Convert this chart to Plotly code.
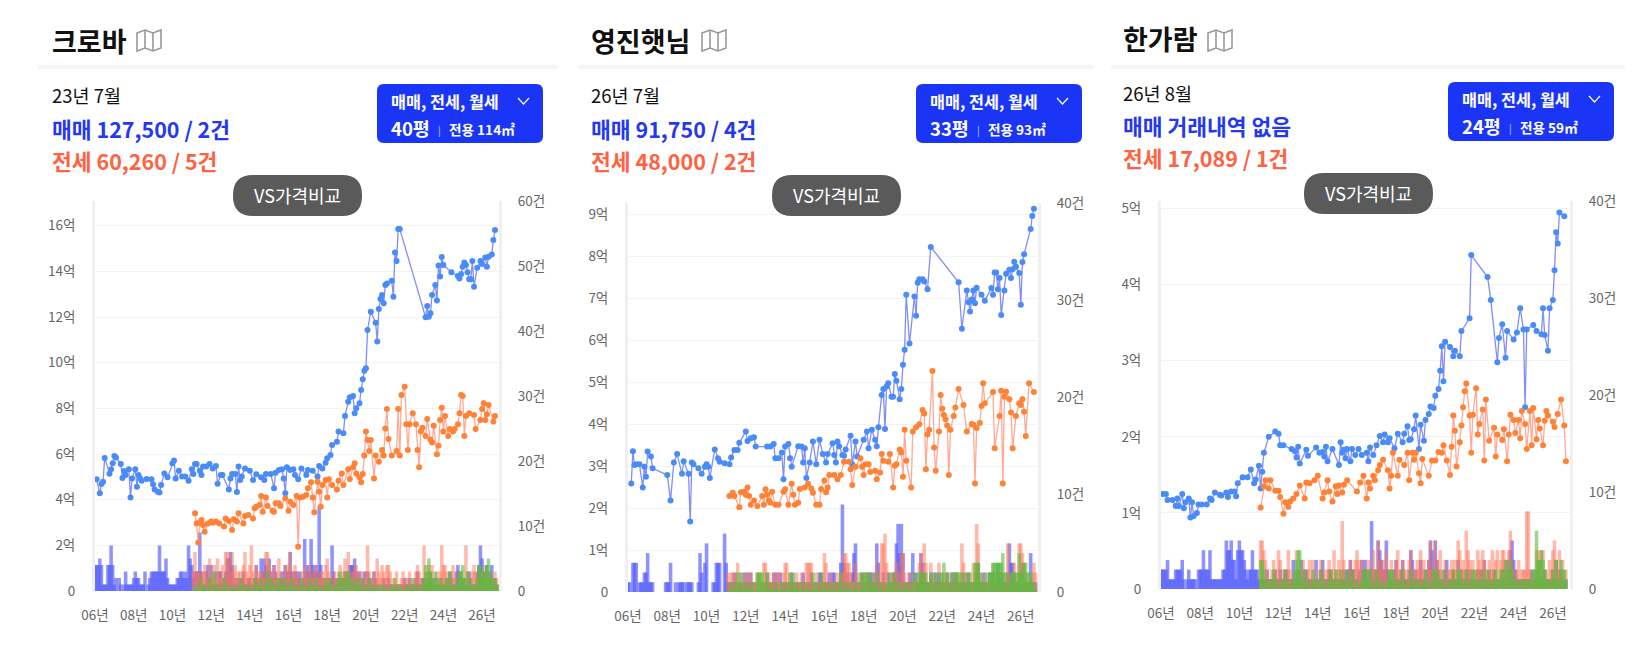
"""Three apartment price/volume panels side by side, rebuilt with Plotly."""

import plotly.graph_objects as go

WIDTH, HEIGHT = 1650, 667
FONT = "Noto Sans CJK KR"

# x axis is counted in months since Jan 2006
year_ticks = [0, 24, 48, 72, 96, 120, 144, 168, 192, 216, 240]
year_labels = ["06년", "08년", "10년", "12년", "14년", "16년", "18년", "20년", "22년", "24년", "26년"]

# ---------------------------------------------------------------------------
# 크로바
# ---------------------------------------------------------------------------
p1_sale_m = [1, 3, 4, 5, 6, 9, 10, 11, 12, 13, 16, 17, 18, 19, 21, 22, 23, 25, 26, 27, 28, 29, 32, 35, 36,
             37, 39, 40, 41, 43, 45, 48, 49, 50, 52, 54, 56, 58, 60, 61, 62, 63, 65, 66, 67, 69, 71, 73, 75,
             76, 78, 79, 83, 84, 85, 87, 88, 89, 90, 91, 93, 96, 98, 100, 103, 105, 106, 109, 111, 112, 114,
             116, 117, 118, 119, 121, 123, 124, 126, 128, 131, 132, 135, 138, 139, 141, 143, 144, 146, 147,
             150, 151, 154, 155, 157, 158, 160, 161, 162, 164, 165, 166, 167, 168, 169, 171, 174, 175, 176,
             177, 178, 179, 180, 181, 184, 185, 186, 187, 188, 189, 205, 206, 207, 208, 209, 211, 212, 213,
             214, 215, 216, 221, 225, 226, 227, 228, 229, 230, 231, 232, 233, 234, 235, 237, 239, 240, 242,
             243, 244, 246, 247, 248]
p1_sale = [4.89, 4.28, 4.69, 4.79, 5.82, 5.14, 5.33, 5.59, 5.91, 5.85, 5.56, 4.95, 5.26, 5.08, 5.33, 4.10,
           4.93, 5.33, 4.57, 5.08, 4.93, 4.83, 4.91, 4.89, 4.67, 4.45, 4.35, 4.31, 4.64, 5.15, 4.98, 5.59,
           5.71, 4.93, 5.27, 5.01, 5.01, 4.83, 5.33, 5.12, 5.56, 5.56, 5.27, 5.08, 5.45, 5.45, 5.56, 5.37,
           5.47, 4.70, 5.08, 5.08, 4.45, 4.93, 5.12, 5.12, 4.34, 5.45, 4.86, 5.01, 5.37, 5.27, 4.86, 5.11,
           4.98, 4.86, 5.12, 5.12, 4.50, 5.18, 5.30, 5.33, 4.93, 4.28, 5.42, 5.30, 5.33, 5.08, 4.89, 5.37,
           5.08, 5.30, 5.27, 5.01, 5.47, 5.37, 5.62, 5.81, 5.96, 6.39, 6.54, 6.98, 6.91, 7.66, 8.29, 8.48,
           8.54, 7.78, 8.00, 8.22, 8.80, 9.27, 9.65, 9.75, 11.43, 12.23, 11.75, 10.93, 12.35, 12.79, 12.96,
           12.60, 13.40, 13.47, 13.59, 12.89, 14.83, 14.45, 15.85, 15.85, 11.99, 12.48, 12.01, 12.16, 12.96,
           13.40, 12.72, 14.25, 13.77, 14.63, 14.28, 13.96, 13.80, 13.69, 13.88, 14.20, 14.39, 14.28, 13.96,
           13.65, 13.65, 14.45, 13.33, 14.16, 14.45, 14.32, 14.61, 14.20, 14.64, 14.74, 15.37, 15.81]
p1_rent_m = [62, 63, 64, 65, 66, 67, 68, 70, 72, 73, 75, 77, 80, 81, 83, 85, 86, 88, 89, 92, 93, 95, 98, 99,
             100, 102, 103, 104, 106, 107, 110, 111, 112, 114, 115, 118, 120, 121, 123, 125, 126, 127, 129,
             131, 132, 134, 135, 136, 138, 139, 140, 141, 143, 144, 145, 147, 150, 151, 153, 154, 157, 158,
             160, 161, 162, 164, 165, 166, 167, 168, 169, 170, 171, 173, 174, 176, 178, 179, 180, 181, 182,
             184, 187, 188, 189, 190, 192, 193, 194, 195, 197, 199, 200, 201, 202, 203, 205, 206, 208, 209,
             210, 212, 213, 214, 215, 216, 217, 219, 220, 222, 223, 225, 226, 227, 228, 229, 230, 232, 235,
             236, 239, 240, 241, 242, 243, 244, 247, 248]
p1_rent = [3.40, 2.96, 2.12, 2.99, 3.11, 2.89, 2.60, 2.96, 3.04, 2.99, 3.04, 2.96, 2.82, 3.18, 3.07, 2.67,
           3.14, 3.04, 3.40, 2.96, 3.28, 3.33, 3.18, 3.62, 3.69, 3.77, 4.16, 3.47, 4.10, 3.72, 3.52, 3.47,
           3.84, 3.84, 3.72, 4.06, 3.52, 3.91, 3.77, 4.16, 1.94, 4.10, 4.13, 4.20, 4.50, 4.76, 4.10, 3.45,
           4.79, 4.35, 3.69, 4.64, 4.86, 4.09, 4.89, 4.64, 4.45, 4.83, 5.15, 4.64, 5.33, 4.91, 5.42, 5.59,
           5.15, 4.98, 4.76, 5.12, 5.93, 6.98, 6.61, 6.13, 6.61, 4.93, 5.93, 5.66, 6.18, 5.93, 7.12, 7.97,
           6.66, 5.93, 6.13, 7.97, 5.93, 8.58, 8.95, 7.30, 6.18, 7.30, 7.78, 7.30, 6.18, 5.42, 6.98, 7.15,
           6.79, 7.53, 6.64, 6.50, 7.24, 5.99, 6.36, 7.49, 8.03, 6.98, 7.66, 6.79, 7.09, 6.98, 7.09, 7.30,
           7.78, 8.58, 8.54, 6.79, 7.66, 7.78, 7.71, 7.09, 7.49, 7.97, 8.22, 7.49, 7.74, 8.15, 7.42, 7.66]
p1_sale_vol = [4, 4, 4, 5, 4, 1, 1, 1, 4, 4, 7, 4,
               1, 2, 0, 2, 1, 0, 1, 3, 1, 1, 1, 1,
               2, 3, 2, 2, 1, 1, 1, 3, 0, 1, 2, 3,
               3, 3, 3, 3, 7, 3, 3, 3, 5, 2, 1, 1,
               1, 1, 1, 2, 2, 3, 3, 2, 3, 2, 7, 5,
               4, 2, 3, 3, 3, 9, 3, 1, 1, 3, 4, 2,
               4, 1, 1, 3, 1, 3, 3, 1, 2, 3, 5, 5,
               6, 4, 1, 2, 1, 2, 1, 2, 3, 1, 1, 2,
               2, 1, 1, 2, 4, 2, 1, 5, 3, 5, 4, 3,
               5, 3, 2, 4, 3, 1, 2, 2, 3, 2, 4, 3,
               3, 6, 3, 2, 3, 3, 2, 3, 1, 2, 8, 3,
               4, 3, 8, 4, 3, 4, 3, 13, 4, 2, 1, 2,
               1, 2, 2, 7, 3, 2, 1, 2, 1, 2, 2, 3,
               1, 3, 4, 4, 4, 5, 3, 2, 3, 1, 2, 3,
               1, 3, 2, 2, 1, 3, 2, 1, 1, 0, 1, 2,
               1, 1, 2, 1, 1, 0, 1, 1, 1, 0, 1, 1,
               2, 1, 1, 2, 1, 1, 1, 2, 3, 1, 1, 2,
               2, 1, 1, 2, 3, 1, 2, 1, 1, 1, 1, 2,
               1, 1, 2, 1, 3, 2, 1, 1, 3, 4, 3, 2,
               1, 2, 1, 1, 3, 2, 1, 1, 1, 3, 4, 7,
               5, 3, 3, 4, 2, 3, 4, 1, 2, 1]
p1_rent_vol = [3, 6, 3, 3, 3, 2, 3, 4, 3, 2, 5, 2,
               3, 4, 2, 5, 3, 2, 4, 2, 6, 6, 5, 3,
               6, 3, 4, 2, 3, 3, 2, 4, 6, 3, 2, 4,
               7, 3, 2, 4, 3, 2, 3, 3, 2, 6, 6, 4,
               3, 2, 4, 3, 2, 5, 3, 2, 2, 4, 3, 4,
               6, 2, 3, 4, 3, 2, 1, 3, 2, 4, 3, 2,
               4, 3, 2, 3, 4, 2, 3, 2, 3, 2, 4, 5,
               3, 2, 1, 3, 2, 2, 3, 4, 2, 3, 5, 3,
               6, 3, 2, 3, 4, 4, 3, 2, 3, 1, 2, 3,
               7, 3, 2, 1, 3, 2, 5, 3, 2, 4, 3, 2,
               4, 4, 3, 1, 2, 1, 3, 1, 1, 2, 3, 2,
               1, 2, 3, 1, 1, 2, 3, 4, 3, 2, 1, 7,
               3, 2, 4, 3, 4, 1, 2, 3, 2, 3, 7, 4,
               4, 3, 1, 2, 3, 4, 2, 1, 3, 2, 3, 1,
               2, 7, 3, 2, 1, 3, 4, 3, 2, 3, 1, 3,
               3, 4, 3, 2, 3, 1, 2, 3, 2, 1]
p1_month_vol = [0, 0, 1, 0, 0, 2, 0, 1, 0, 0, 2, 0,
                0, 3, 0, 1, 0, 0, 0, 2, 0, 1, 0, 0,
                0, 1, 0, 0, 0, 2, 0, 1, 0, 0, 1, 0,
                0, 0, 2, 0, 1, 0, 2, 0, 0, 1, 3, 0,
                2, 0, 1, 0, 2, 0, 2, 0, 1, 2, 0, 0,
                1, 2, 0, 0, 1, 0, 0, 2, 0, 1, 0, 0,
                2, 0, 1, 0, 2, 0, 0, 1, 0, 0, 2, 0,
                1, 2, 0, 0, 1, 0, 2, 3, 0, 2, 1, 3,
                3, 0, 2, 1, 0, 2, 0, 1, 2, 0, 0, 1,
                0, 2, 0, 0, 1, 0, 0, 1, 0, 0, 1, 0,
                0, 0, 0, 1, 0, 2, 0, 0, 1, 0, 0, 0,
                0, 1, 0, 0, 2, 0, 1, 0, 0, 1, 0, 2,
                4, 3, 5, 3, 2, 1, 3, 2, 1, 2, 0, 1,
                1, 2, 0, 3, 1, 0, 1, 0, 2, 3, 3, 4,
                2, 1, 3, 2, 1, 0, 1, 0, 2, 4, 4, 3,
                2, 3, 4, 5, 3, 2, 1, 2, 1, 1]

# ---------------------------------------------------------------------------
# 영진햇님
# ---------------------------------------------------------------------------
p2_sale_m = [2, 3, 4, 5, 7, 9, 10, 11, 12, 14, 15, 24, 26, 28, 30, 33, 34, 37, 38, 39, 40, 43, 45, 47, 48,
             49, 50, 53, 55, 56, 59, 62, 63, 65, 67, 68, 72, 73, 75, 77, 78, 85, 87, 89, 90, 92, 94, 95, 96,
             98, 99, 100, 104, 106, 107, 108, 109, 111, 113, 115, 117, 119, 121, 122, 125, 126, 127, 128,
             129, 131, 132, 133, 136, 137, 139, 140, 144, 146, 147, 149, 151, 152, 153, 155, 156, 157, 158,
             159, 161, 162, 163, 164, 166, 167, 168, 169, 170, 172, 175, 176, 177, 178, 180, 181, 183, 185,
             202, 204, 207, 208, 209, 210, 211, 212, 213, 216, 218, 222, 223, 224, 225, 226, 227, 228, 230,
             231, 233, 234, 235, 236, 237, 239, 240, 241, 242, 246, 247, 248]
p2_sale = [2.59, 3.36, 3.03, 3.05, 3.05, 2.49, 2.99, 2.75, 3.35, 3.23, 2.95, 2.79, 2.18, 3.09, 3.29, 2.82,
           3.12, 2.82, 1.68, 3.09, 3.05, 2.95, 2.82, 2.99, 3.05, 2.99, 2.72, 3.40, 3.19, 3.11, 3.07, 3.05,
           3.21, 3.39, 3.39, 3.56, 3.83, 3.60, 3.67, 3.69, 3.47, 3.47, 3.47, 3.53, 3.19, 3.19, 3.33, 2.69,
           3.47, 3.53, 3.19, 2.99, 3.48, 3.47, 3.09, 3.43, 2.72, 3.09, 3.59, 3.05, 3.63, 3.29, 3.09, 3.29,
           3.55, 3.27, 3.09, 3.59, 3.48, 3.27, 3.25, 3.40, 3.73, 3.05, 3.59, 3.23, 3.63, 3.83, 3.43, 3.87,
           3.63, 3.48, 3.93, 4.70, 4.84, 3.89, 4.90, 4.98, 4.66, 4.66, 5.20, 5.04, 4.60, 4.84, 5.42, 5.78,
           7.09, 5.93, 7.05, 6.59, 7.38, 7.46, 7.46, 7.41, 7.22, 8.23, 7.39, 6.28, 7.19, 6.91, 6.69, 6.98,
           7.19, 6.89, 7.26, 7.09, 6.95, 7.25, 7.09, 7.62, 7.62, 7.22, 7.49, 6.61, 7.19, 7.59, 7.69, 7.49,
           7.70, 7.88, 7.76, 7.61, 6.85, 7.87, 8.06, 8.66, 8.97, 9.14]
p2_rent_m = [62, 64, 65, 68, 69, 71, 72, 73, 74, 75, 77, 79, 82, 83, 84, 85, 86, 87, 88, 90, 92, 95, 96, 98,
             100, 101, 102, 104, 105, 108, 110, 112, 113, 115, 117, 118, 120, 121, 122, 123, 126, 128, 130,
             132, 135, 136, 137, 139, 142, 143, 144, 145, 147, 148, 151, 152, 154, 155, 156, 159, 160, 162,
             163, 164, 166, 167, 168, 169, 170, 173, 174, 176, 178, 180, 181, 182, 183, 184, 186, 187, 188,
             190, 191, 192, 193, 194, 195, 196, 197, 199, 200, 202, 205, 207, 210, 211, 212, 213, 215, 216,
             217, 218, 223, 224, 227, 228, 229, 230, 231, 233, 234, 235, 237, 239, 240, 241, 242, 243, 245,
             248]
p2_rent = [2.29, 2.37, 2.29, 2.02, 2.38, 2.39, 2.32, 2.49, 2.29, 2.08, 2.18, 2.05, 2.29, 2.08, 2.45, 2.32,
           2.18, 2.13, 2.39, 2.08, 2.08, 2.39, 2.45, 2.08, 2.58, 2.32, 2.08, 2.13, 2.46, 2.49, 2.58, 2.47,
           2.37, 2.08, 2.08, 2.46, 2.66, 2.38, 2.49, 2.79, 2.79, 2.69, 2.79, 3.11, 3.11, 2.93, 2.55, 2.99,
           3.19, 2.99, 2.79, 3.05, 3.05, 2.86, 2.89, 2.69, 2.85, 3.29, 3.13, 3.11, 3.29, 2.49, 3.01, 3.05,
           3.40, 3.33, 2.75, 3.87, 3.13, 2.49, 3.83, 3.93, 4.00, 4.34, 4.26, 2.93, 3.76, 3.87, 5.27, 3.45,
           2.89, 3.83, 4.70, 4.37, 4.22, 4.12, 3.97, 2.79, 3.87, 4.20, 4.40, 4.84, 4.46, 3.83, 4.01, 3.99,
           2.59, 3.91, 4.03, 4.44, 4.98, 4.50, 4.77, 3.43, 4.20, 4.80, 2.59, 4.66, 4.78, 4.60, 4.28, 3.43,
           4.20, 4.50, 4.46, 4.60, 4.30, 3.72, 4.98, 4.77]
p2_sale_vol = [1, 1, 0, 3, 3, 3, 0, 1, 1, 1, 2, 2,
               4, 1, 1, 1, 0, 0, 0, 0, 0, 0, 0, 1,
               1, 1, 3, 0, 0, 1, 0, 1, 1, 1, 1, 0,
               1, 1, 1, 1, 0, 0, 0, 1, 4, 2, 0, 3,
               5, 0, 0, 0, 1, 1, 3, 3, 3, 0, 0, 6,
               3, 1, 1, 1, 1, 2, 1, 0, 1, 1, 0, 2,
               1, 2, 1, 2, 1, 0, 1, 0, 0, 0, 1, 0,
               1, 2, 1, 1, 0, 2, 1, 2, 0, 2, 1, 1,
               1, 1, 0, 1, 2, 1, 0, 1, 1, 0, 1, 2,
               1, 0, 1, 1, 2, 0, 1, 0, 1, 2, 2, 0,
               1, 1, 1, 2, 1, 2, 2, 1, 1, 1, 3, 9,
               3, 1, 2, 1, 0, 2, 4, 5, 1, 0, 1, 2,
               1, 0, 1, 2, 2, 1, 2, 1, 5, 3, 1, 1,
               2, 1, 0, 2, 1, 1, 2, 2, 5, 7, 4, 7,
               4, 1, 1, 1, 2, 1, 4, 0, 2, 1, 1, 4,
               3, 2, 1, 1, 1, 2, 0, 1, 2, 1, 2, 1,
               1, 1, 0, 2, 1, 1, 2, 1, 2, 1, 1, 1,
               1, 2, 1, 1, 2, 1, 0, 1, 1, 2, 3, 1,
               1, 2, 1, 1, 0, 2, 1, 2, 1, 1, 3, 2,
               1, 2, 1, 1, 2, 5, 3, 3, 2, 1, 1, 1,
               2, 3, 1, 1, 1, 1, 4, 1, 1, 1]
p2_rent_vol = [2, 1, 2, 2, 1, 2, 3, 1, 2, 1, 1, 2,
               2, 1, 2, 1, 1, 1, 2, 2, 1, 1, 3, 3,
               1, 2, 1, 1, 2, 1, 2, 2, 1, 1, 2, 3,
               3, 1, 2, 1, 1, 1, 2, 1, 1, 2, 1, 1,
               3, 3, 3, 3, 1, 1, 2, 1, 1, 1, 2, 4,
               3, 1, 1, 2, 1, 1, 1, 2, 1, 2, 2, 4,
               4, 3, 3, 2, 1, 1, 3, 2, 1, 1, 2, 1,
               2, 1, 2, 1, 1, 2, 1, 3, 2, 1, 5, 5,
               6, 3, 1, 1, 2, 2, 2, 3, 2, 1, 4, 4,
               2, 1, 1, 2, 1, 1, 2, 1, 1, 3, 4, 2,
               5, 3, 1, 1, 3, 1, 2, 1, 1, 3, 1, 2,
               1, 2, 1, 2, 1, 1, 2, 1, 2, 1, 2, 5,
               3, 1, 2, 2, 1, 1, 3, 2, 7, 5, 2, 1,
               1, 2, 1, 1, 1, 2, 3, 1, 2, 1, 2, 2,
               1, 1, 2, 5, 2, 1, 1, 3, 1, 2, 5, 5,
               4, 3, 1, 2, 1, 1, 2, 3, 2]
p2_month_vol = [0, 0, 1, 0, 0, 1, 2, 0, 2, 0, 1, 0,
                1, 0, 0, 1, 0, 0, 2, 2, 2, 2, 0, 1,
                2, 0, 0, 1, 0, 0, 1, 0, 0, 1, 0, 0,
                1, 0, 2, 0, 2, 0, 1, 0, 0, 1, 0, 0,
                1, 0, 0, 0, 2, 0, 1, 0, 0, 2, 0, 1,
                0, 0, 1, 0, 0, 1, 0, 0, 1, 2, 0, 0,
                1, 0, 0, 1, 0, 0, 1, 0, 0, 2, 0, 2,
                2, 2, 0, 2, 1, 0, 1, 2, 0, 0, 1, 0,
                0, 1, 0, 2, 1, 0, 2, 0, 1, 0, 0, 1,
                0, 1, 0, 0, 1, 0, 2, 0, 1, 2, 2, 2,
                1, 2, 0, 1, 2, 0, 2, 0, 1, 2, 0, 2,
                3, 0, 2, 1, 0, 2, 0, 2, 2, 2, 0, 2,
                1, 0, 2, 1, 2, 0, 1, 3, 3, 3, 2, 1,
                0, 1, 2, 0, 2, 2, 3, 3, 3, 3, 3, 3,
                4, 1, 2, 0, 1, 2, 2, 2, 1, 2, 4, 2,
                2, 3, 3, 2, 1, 2, 1, 1, 0]

# ---------------------------------------------------------------------------
# 한가람
# ---------------------------------------------------------------------------
p3_sale_m = [1, 3, 4, 7, 9, 10, 11, 13, 14, 15, 17, 18, 19, 20, 22, 23, 25, 28, 30, 31, 33, 36, 37, 40, 41,
             43, 45, 46, 47, 50, 53, 55, 57, 58, 60, 61, 62, 63, 66, 70, 72, 73, 75, 80, 82, 83, 84, 85, 89,
             90, 95, 97, 99, 100, 101, 102, 105, 109, 110, 111, 112, 113, 114, 116, 117, 119, 121, 123, 126,
             127, 128, 130, 132, 134, 136, 137, 139, 140, 143, 145, 148, 149, 151, 152, 153, 155, 156, 158,
             159, 161, 162, 164, 165, 167, 168, 170, 171, 172, 173, 174, 177, 179, 180, 183, 184, 189, 190,
             200, 202, 206, 207, 209, 211, 212, 216, 218, 220, 222, 223, 224, 228, 230, 233, 234, 235, 237,
             238, 240, 241, 242, 243, 244, 247]
p3_sale = [1.25, 1.25, 1.17, 1.17, 1.09, 1.19, 1.09, 1.25, 1.06, 1.14, 1.19, 0.94, 1.14, 0.96, 1.00, 1.11,
           1.11, 1.11, 1.19, 1.17, 1.27, 1.24, 1.23, 1.27, 1.21, 1.28, 1.28, 1.22, 1.39, 1.47, 1.47, 1.57,
           1.39, 1.44, 1.62, 1.32, 1.54, 1.79, 2.00, 2.07, 2.04, 1.89, 1.89, 1.84, 1.81, 1.73, 1.87, 1.65,
           1.83, 1.75, 1.86, 1.79, 1.80, 1.74, 1.87, 1.68, 1.84, 1.63, 1.93, 1.79, 1.83, 1.72, 1.84, 1.68,
           1.84, 1.76, 1.84, 1.76, 1.79, 1.68, 1.86, 1.76, 1.89, 2.01, 1.93, 2.03, 1.93, 1.98, 1.85, 2.04,
           1.93, 2.04, 2.14, 1.96, 1.97, 2.10, 2.28, 1.84, 2.16, 1.95, 2.22, 2.30, 2.40, 2.38, 2.54, 2.63,
           2.87, 3.19, 2.73, 3.25, 3.18, 3.06, 3.13, 3.06, 3.39, 3.56, 4.39, 4.10, 3.80, 2.98, 3.30, 3.48,
           3.04, 3.39, 3.28, 3.37, 3.69, 3.41, 2.39, 3.41, 3.47, 3.39, 3.35, 3.69, 3.34, 3.13, 3.69, 3.80,
           4.19, 4.69, 4.54, 4.95, 4.90]
p3_rent_m = [61, 63, 64, 66, 67, 70, 72, 73, 75, 76, 78, 79, 81, 83, 85, 88, 89, 91, 94, 96, 99, 100, 102,
             103, 105, 107, 108, 109, 111, 112, 114, 120, 122, 124, 126, 127, 128, 130, 131, 133, 134, 136,
             139, 140, 141, 142, 145, 146, 149, 151, 152, 154, 155, 156, 158, 159, 160, 164, 166, 168, 170,
             172, 173, 175, 177, 178, 179, 180, 181, 183, 184, 185, 186, 187, 189, 190, 191, 193, 194, 195,
             197, 198, 199, 201, 204, 205, 206, 209, 210, 212, 213, 214, 216, 217, 219, 220, 221, 223, 224,
             226, 227, 228, 230, 231, 232, 234, 235, 236, 237, 240, 241, 243, 245, 247, 248]
p3_rent = [1.07, 1.35, 1.43, 1.32, 1.43, 1.29, 1.29, 1.21, 0.99, 1.14, 1.08, 1.15, 1.19, 1.25, 1.36, 1.19,
           1.40, 1.39, 1.43, 1.49, 1.19, 1.27, 1.43, 1.28, 1.15, 1.35, 1.25, 1.36, 1.27, 1.37, 1.43, 1.28,
           1.40, 1.49, 1.19, 1.40, 1.32, 1.49, 1.43, 1.56, 1.63, 1.70, 1.56, 1.32, 1.49, 1.79, 1.49, 1.70,
           1.63, 1.79, 1.43, 1.79, 1.70, 1.79, 1.52, 1.39, 1.71, 1.49, 1.69, 1.69, 1.80, 1.79, 1.89, 1.69,
           1.50, 1.87, 2.28, 2.08, 1.61, 1.93, 2.15, 2.39, 2.60, 2.70, 2.28, 1.79, 2.29, 2.64, 2.03, 2.17,
           2.36, 1.69, 2.49, 1.95, 2.12, 1.74, 2.03, 1.96, 2.10, 1.68, 2.03, 2.29, 2.22, 2.05, 2.22, 1.98,
           2.34, 2.17, 1.84, 2.34, 1.89, 2.38, 1.97, 2.22, 2.11, 1.89, 2.21, 2.34, 2.28, 2.20, 2.13, 2.30,
           2.49, 2.15, 1.68]
p3_sale_vol = [2, 2, 2, 2, 3, 1, 1, 1, 1, 2, 2, 2,
               2, 3, 1, 0, 1, 2, 1, 1, 1, 1, 0, 2,
               2, 2, 4, 2, 2, 2, 4, 1, 1, 1, 1, 1,
               1, 1, 2, 2, 5, 4, 4, 5, 3, 3, 1, 4,
               5, 4, 4, 3, 2, 1, 2, 2, 4, 2, 2, 2,
               1, 1, 1, 1, 1, 2, 1, 1, 1, 1, 2, 1,
               1, 2, 1, 1, 2, 2, 1, 1, 1, 3, 1, 1,
               2, 1, 3, 1, 2, 2, 1, 1, 1, 1, 1, 3,
               1, 1, 2, 3, 1, 1, 1, 2, 2, 1, 1, 1,
               1, 1, 1, 1, 2, 1, 2, 2, 3, 2, 2, 1,
               1, 2, 1, 3, 2, 3, 2, 1, 2, 7, 1, 2,
               2, 5, 4, 3, 2, 2, 5, 2, 1, 1, 1, 2,
               3, 1, 1, 2, 3, 1, 1, 1, 2, 4, 3, 1,
               2, 1, 1, 3, 1, 1, 2, 1, 3, 5, 4, 2,
               5, 3, 2, 1, 1, 1, 2, 3, 1, 1, 1, 2,
               1, 1, 3, 1, 2, 1, 1, 2, 1, 2, 1, 1,
               1, 1, 2, 1, 2, 1, 3, 1, 1, 2, 1, 1,
               2, 1, 1, 1, 1, 2, 2, 1, 3, 2, 4, 5,
               3, 2, 1, 1, 1, 1, 1, 1, 1, 1, 1, 2,
               1, 1, 1, 2, 1, 1, 1, 2, 1, 1, 1, 1,
               2, 1, 3, 1, 2, 1, 1, 1, 1]
p3_rent_vol = [5, 5, 4, 3, 2, 1, 1, 2, 3, 2, 1, 4,
               3, 1, 2, 1, 2, 4, 2, 1, 1, 2, 4, 1,
               2, 1, 3, 2, 1, 2, 3, 1, 3, 2, 1, 1,
               2, 3, 1, 2, 1, 2, 3, 2, 1, 4, 2, 2,
               3, 2, 7, 3, 1, 1, 2, 3, 1, 2, 3, 4,
               3, 2, 3, 1, 1, 2, 3, 1, 2, 4, 2, 2,
               5, 3, 2, 3, 2, 4, 1, 2, 3, 1, 2, 3,
               4, 2, 1, 3, 2, 2, 1, 3, 4, 2, 1, 2,
               3, 2, 4, 2, 3, 1, 2, 3, 5, 2, 2, 5,
               3, 2, 4, 2, 1, 3, 1, 2, 2, 3, 2, 3,
               2, 5, 4, 2, 3, 2, 6, 4, 3, 2, 3, 1,
               2, 4, 3, 2, 4, 3, 2, 1, 3, 2, 4, 2,
               3, 4, 1, 3, 4, 4, 3, 2, 4, 6, 3, 2,
               1, 2, 3, 1, 2, 2, 2, 8, 8, 2, 1, 1,
               2, 4, 4, 3, 4, 4, 1, 2, 1, 3, 2, 4,
               5, 3, 2, 4, 2, 3, 1, 2]
p3_month_vol = [3, 3, 2, 1, 0, 1, 0, 1, 2, 0, 1, 0,
                0, 1, 0, 2, 0, 1, 0, 0, 1, 2, 3, 4,
                4, 0, 1, 2, 0, 1, 0, 0, 2, 1, 0, 1,
                0, 2, 1, 0, 0, 1, 0, 2, 1, 0, 2, 0,
                1, 2, 0, 1, 0, 2, 0, 1, 2, 0, 0, 1,
                0, 0, 1, 2, 2, 2, 0, 2, 1, 0, 0, 2,
                1, 0, 0, 1, 0, 0, 1, 2, 2, 2, 0, 1,
                0, 1, 0, 2, 0, 1, 0, 0, 2, 1, 0, 1,
                0, 1, 0, 0, 1, 2, 0, 1, 0, 0, 2, 2,
                2, 0, 1, 0, 2, 0, 0, 1, 0, 1, 2, 0,
                1, 2, 2, 0, 1, 0, 2, 0, 1, 0, 2, 2,
                1, 0, 1, 0, 2, 1, 0, 2, 0, 1, 0, 1,
                2, 1, 0, 2, 1, 2, 3, 0, 2, 3, 2, 1,
                0, 1, 0, 1, 0, 1, 1, 0, 1, 1, 0, 2,
                2, 6, 3, 3, 4, 3, 2, 1, 1, 0, 1, 2,
                1, 3, 1, 0, 3, 2, 2, 1]

VOL_START = 61  # 전세/월세 volume lists start here

panels = [
    dict(title="크로바", date="23년 7월", sale="매매 127,500 / 2건", rent="전세 60,260 / 5건",
         size="40평", area="전용 114㎡", sale_m=p1_sale_m, sale_v=p1_sale, rent_m=p1_rent_m, rent_v=p1_rent,
         sale_vol=p1_sale_vol, rent_vol=p1_rent_vol, month_vol=p1_month_vol,
         price_ticks=[0, 2, 4, 6, 8, 10, 12, 14, 16], vol_ticks=[0, 10, 20, 30, 40, 50, 60],
         price_top=17.08, vol_top=60, box=(95, 499, 201, 591), dx=0, dy=0, icon=137, strip=0.3),
    dict(title="영진햇님", date="26년 7월", sale="매매 91,750 / 4건", rent="전세 48,000 / 2건",
         size="33평", area="전용 93㎡", sale_m=p2_sale_m, sale_v=p2_sale, rent_m=p2_rent_m, rent_v=p2_rent,
         sale_vol=p2_sale_vol, rent_vol=p2_rent_vol, month_vol=p2_month_vol,
         price_ticks=[0, 1, 2, 3, 4, 5, 6, 7, 8, 9], vol_ticks=[0, 10, 20, 30, 40],
         price_top=9.28, vol_top=40, box=(628, 1038, 203, 592), dx=539, dy=0, icon=702, strip=0.2),
    dict(title="한가람", date="26년 8월", sale="매매 거래내역 없음", rent="전세 17,089 / 1건",
         size="24평", area="전용 59㎡", sale_m=p3_sale_m, sale_v=p3_sale, rent_m=p3_rent_m, rent_v=p3_rent,
         sale_vol=p3_sale_vol, rent_vol=p3_rent_vol, month_vol=p3_month_vol,
         price_ticks=[0, 1, 2, 3, 4, 5], vol_ticks=[0, 10, 20, 30, 40],
         price_top=5.1, vol_top=40, box=(1161, 1570, 201, 589), dx=1071, dy=-2, icon=1208, strip=0.2),
]
dividers = [(38, 558), (578, 1094), (1111, 1625)]


def fx(x):
    return x / WIDTH


def fy(y):
    return 1 - y / HEIGHT


def add_text(annots, x, y, text, size, color, anchor="left"):
    annots.append(dict(x=fx(x), y=fy(y), xref="paper", yref="paper", text=text, showarrow=False,
                       xanchor=anchor, yanchor="middle", align="left",
                       font=dict(family=FONT, size=size, color=color)))


def round_box(x0, x1, y0, y1, r):
    # rounded rectangle path in paper fractions
    rx, ry = r / WIDTH, r / HEIGHT
    l, t, rr, b = fx(x0), fy(y0), fx(x1), fy(y1)
    return (f"M {l + rx} {t} L {rr - rx} {t} Q {rr} {t} {rr} {t - ry} L {rr} {b + ry} Q {rr} {b} {rr - rx} {b} "
            f"L {l + rx} {b} Q {l} {b} {l} {b + ry} L {l} {t - ry} Q {l} {t} {l + rx} {t} Z")


def pts(points):
    return " L ".join(f"{fx(x)} {fy(y)}" for x, y in points)


fig = go.Figure()
annots, shapes = [], []
layout = dict(width=WIDTH, height=HEIGHT, margin=dict(l=0, r=0, t=0, b=0, autoexpand=False), paper_bgcolor="white",
              plot_bgcolor="white", showlegend=False, barmode="overlay", font=dict(family=FONT))

for i, p in enumerate(panels):
    n = i + 1
    x_name = "x" if i == 0 else f"x{n}"
    vol_name = f"y{2 * n - 1}" if i > 0 else "y"
    price_name = f"y{2 * n}"
    left, right, top, bottom = p["box"]
    dx, dy = p["dx"], p["dy"]

    sale_vol_x = list(range(len(p["sale_vol"])))
    rent_vol_x = list(range(VOL_START, VOL_START + len(p["rent_vol"])))
    month_vol_x = list(range(VOL_START, VOL_START + len(p["month_vol"])))
    # zero-count months still show a thin green sliver in the source
    month_vol = [v if v else p["strip"] for v in p["month_vol"]]

    fig.add_trace(go.Bar(x=sale_vol_x, y=p["sale_vol"], width=2.2, xaxis=x_name, yaxis=vol_name,
                         marker=dict(color="rgba(84,92,250,0.66)", line_width=0)))
    fig.add_trace(go.Bar(x=rent_vol_x, y=p["rent_vol"], width=2.2, xaxis=x_name, yaxis=vol_name,
                         marker=dict(color="rgba(255,118,90,0.5)", line_width=0)))
    fig.add_trace(go.Bar(x=month_vol_x, y=month_vol, width=2.2, xaxis=x_name, yaxis=vol_name,
                         marker=dict(color="rgba(90,190,60,0.6)", line_width=0)))
    fig.add_trace(go.Scatter(x=p["sale_m"], y=p["sale_v"], mode="lines+markers", xaxis=x_name, yaxis=price_name,
                             line=dict(color="rgba(100,112,245,0.8)", width=1.3),
                             marker=dict(color="#4a8cf7", size=6)))
    fig.add_trace(go.Scatter(x=p["rent_m"], y=p["rent_v"], mode="lines+markers", xaxis=x_name, yaxis=price_name,
                             line=dict(color="rgba(255,140,115,0.75)", width=1.3),
                             marker=dict(color="#ff8236", size=6)))

    x_key = "xaxis" if i == 0 else f"xaxis{n}"
    vol_key = "yaxis" if i == 0 else f"yaxis{2 * n - 1}"
    price_key = f"yaxis{2 * n}"
    layout[x_key] = dict(domain=[fx(left), fx(right)], range=[0, 250.5], anchor=vol_name, showgrid=False,
                         zeroline=False, tickmode="array", tickvals=year_ticks, ticktext=year_labels,
                         ticks="outside", ticklen=12, tickcolor="rgba(0,0,0,0)",
                         tickfont=dict(family=FONT, size=13.5, color="#666666"))
    layout[vol_key] = dict(domain=[fy(bottom), fy(top)], range=[0, p["vol_top"]], side="right", anchor=x_name,
                           showgrid=False, zeroline=False, showline=True, linecolor="#f0f0f0", linewidth=3,
                           tickmode="array", tickvals=p["vol_ticks"],
                           ticktext=["0"] + [f"{v}건" for v in p["vol_ticks"][1:]],
                           ticks="outside", ticklen=13, tickcolor="rgba(0,0,0,0)",
                           tickfont=dict(family=FONT, size=13.5, color="#666666"))
    layout[price_key] = dict(domain=[fy(bottom), fy(top)], range=[0, p["price_top"]], side="left", anchor=x_name,
                             overlaying=vol_name, showgrid=True, gridcolor="#f3f3f3", gridwidth=1, zeroline=False,
                             showline=True, linecolor="#f0f0f0", linewidth=3,
                             tickmode="array", tickvals=p["price_ticks"],
                             ticktext=["0"] + [f"{v}억" for v in p["price_ticks"][1:]],
                             ticks="outside", ticklen=14, tickcolor="rgba(0,0,0,0)",
                             tickfont=dict(family=FONT, size=13.5, color="#666666"))

    # header block
    add_text(annots, 50 + dx, 40 + dy, f"<b>{p['title']}</b>", 27, "#111111")
    add_text(annots, 50 + dx, 95 + dy, p["date"], 18.5, "#111111")
    add_text(annots, 50 + dx, 128 + dy, f"<b>{p['sale']}</b>", 21.5, "#2438ee")
    add_text(annots, 50 + dx, 160 + dy, f"<b>{p['rent']}</b>", 21.5, "#ff6242")

    # divider under the title
    d0, d1 = dividers[i]
    shapes.append(dict(type="rect", xref="paper", yref="paper", layer="below", x0=fx(d0), x1=fx(d1),
                       y0=fy(69), y1=fy(65), fillcolor="#f5f5f5", line_width=0))

    # map icon
    ix = p["icon"]
    shapes.append(dict(type="path", xref="paper", yref="paper", line=dict(color="#999999", width=1.6),
                       path="M " + pts([(ix, 33), (ix + 8, 30), (ix + 16, 33), (ix + 24, 30), (ix + 24, 48),
                                        (ix + 16, 51), (ix + 8, 48), (ix, 51)]) + " Z"))
    shapes.append(dict(type="path", xref="paper", yref="paper", line=dict(color="#999999", width=1.6),
                       path="M " + pts([(ix + 8, 30), (ix + 8, 48)])))
    shapes.append(dict(type="path", xref="paper", yref="paper", line=dict(color="#999999", width=1.6),
                       path="M " + pts([(ix + 16, 33), (ix + 16, 51)])))

    # dropdown button
    shapes.append(dict(type="path", xref="paper", yref="paper", fillcolor="#1a35f5", line_width=0,
                       path=round_box(377 + dx, 543 + dx, 84 + dy, 143 + dy, 7)))
    add_text(annots, 389 + dx, 101 + dy, "<b>매매, 전세, 월세</b>", 16.3, "white")
    shapes.append(dict(type="path", xref="paper", yref="paper", line=dict(color="white", width=1.2),
                       path="M " + pts([(518 + dx, 98 + dy), (523.5 + dx, 104 + dy), (529 + dx, 98 + dy)])))
    add_text(annots, 389 + dx, 128 + dy, f"<b>{p['size']}</b>", 18.5, "white")
    add_text(annots, 436 + dx, 129 + dy, "|", 10, "#ccd4ff")
    add_text(annots, 447 + dx, 129 + dy, f"<b>{p['area']}</b>", 13.6, "white")

    # compare pill sits on top of the chart
    shapes.append(dict(type="path", xref="paper", yref="paper", fillcolor="#5a5a5a", line_width=0,
                       path=round_box(233 + dx, 362 + dx, 175 + dy, 216 + dy, 20)))
    add_text(annots, 297.5 + dx, 195 + dy, "VS가격비교", 18, "white", anchor="center")

layout["annotations"] = annots
layout["shapes"] = shapes
fig.update_layout(**layout)

fig.write_html("out.html", config={"displayModeBar": False}, post_script="document.body.style.margin='0';")
